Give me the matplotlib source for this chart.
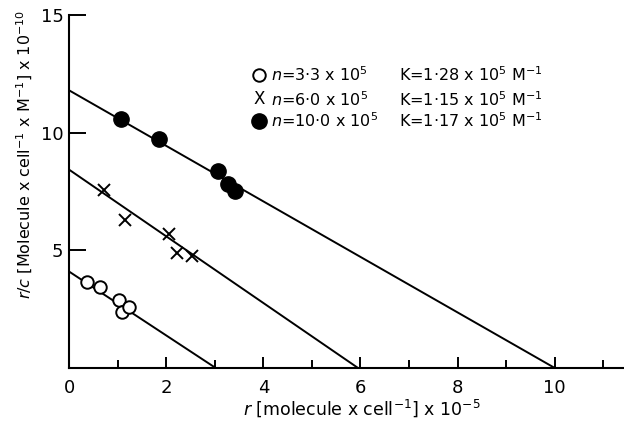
import matplotlib.pyplot as plt

plt.rcParams['font.family'] = ['DejaVu Sans']
plt.rcParams['mathtext.fontset'] = 'dejavusans'

# data (r in 1e5, r/c in 1e10)
open_x = [0.37, 0.64, 1.03, 1.09, 1.24]
open_y = [3.66, 3.43, 2.89, 2.40, 2.60]
cross_x = [0.73, 1.15, 2.06, 2.22, 2.53]
cross_y = [7.57, 6.30, 5.70, 4.90, 4.77]
fill_x = [1.07, 1.86, 3.06, 3.28, 3.42]
fill_y = [10.6, 9.74, 8.35, 7.80, 7.50]

# fitted lines: y-intercept and x-intercept
y_int = [4.1, 8.43, 11.8]
x_int = [3.02, 5.95, 10.0]

legend_n = ['$\\mathit{n}$=3·3 x 10$^5$', '$\\mathit{n}$=6·0 x 10$^5$', '$\\mathit{n}$=10·0 x 10$^5$']
legend_k = ['K=1·28 x 10$^5$ M$^{-1}$', 'K=1·15 x 10$^5$ M$^{-1}$', 'K=1·17 x 10$^5$ M$^{-1}$']

fig = plt.figure(figsize=(6.24, 4.22), dpi=100)
ax = fig.add_axes([0.1106, 0.128, 0.889, 0.8365])

for b, a in zip(y_int, x_int):
    ax.plot([0, a], [b, 0], color='black', linewidth=1.4, zorder=2)

ax.plot(open_x, open_y, 'o', markersize=9, markerfacecolor='white',
        markeredgecolor='black', markeredgewidth=1.4, zorder=3)
ax.plot(cross_x, cross_y, 'x', markersize=9, color='black', markeredgewidth=1.4, zorder=3)
ax.plot(fill_x, fill_y, 'o', markersize=11, color='black', zorder=3)

ax.set_xlim(0, 11.42)
ax.set_ylim(0, 15)
ax.spines['top'].set_visible(False)
ax.spines['right'].set_visible(False)
for s in ['left', 'bottom']:
    ax.spines[s].set_linewidth(1.5)

ax.set_xticks([0, 2, 4, 6, 8, 10])
ax.set_xticklabels(['0', '2', '4', '6', '8', '10'])
ax.set_xticks([1, 3, 5, 7, 9, 11], minor=True)
ax.set_yticks([5, 10, 15])
ax.set_yticklabels(['5', '10', '15'])
ax.tick_params(axis='x', which='major', direction='in', length=8, width=1.4, labelsize=13, pad=8)
ax.tick_params(axis='x', which='minor', direction='in', length=6, width=1.4)
ax.tick_params(axis='y', which='major', direction='in', length=12, width=1.4, labelsize=13, pad=4)

fig.text(0.58, 0.033, '$\\mathit{r}$ [molecule x cell$^{-1}$] x 10$^{-5}$',
         ha='center', va='center', fontsize=12.5)
fig.text(0.04, 0.635, '$\\mathit{r/c}$ [Molecule x cell$^{-1}$ x M$^{-1}$] x 10$^{-10}$',
         ha='center', va='center', rotation=90, fontsize=11.5)

# legend block
rows_y = [0.822, 0.765, 0.713]
mx = 0.415
ax2 = fig.add_axes([0, 0, 1, 1], facecolor='none')
ax2.set_xlim(0, 1)
ax2.set_ylim(0, 1)
ax2.axis('off')
ax2.plot([mx], [rows_y[0]], 'o', markersize=9, markerfacecolor='white',
         markeredgecolor='black', markeredgewidth=1.4)
ax2.text(mx, rows_y[1], 'X', ha='center', va='center', fontsize=12)
ax2.plot([mx], [rows_y[2]], 'o', markersize=11, color='black')
for ry, tn, tk in zip(rows_y, legend_n, legend_k):
    ax2.text(0.435, ry, tn, ha='left', va='center', fontsize=11.5)
    ax2.text(0.640, ry, tk, ha='left', va='center', fontsize=11.5)

fig.savefig('out.png', dpi=100)
